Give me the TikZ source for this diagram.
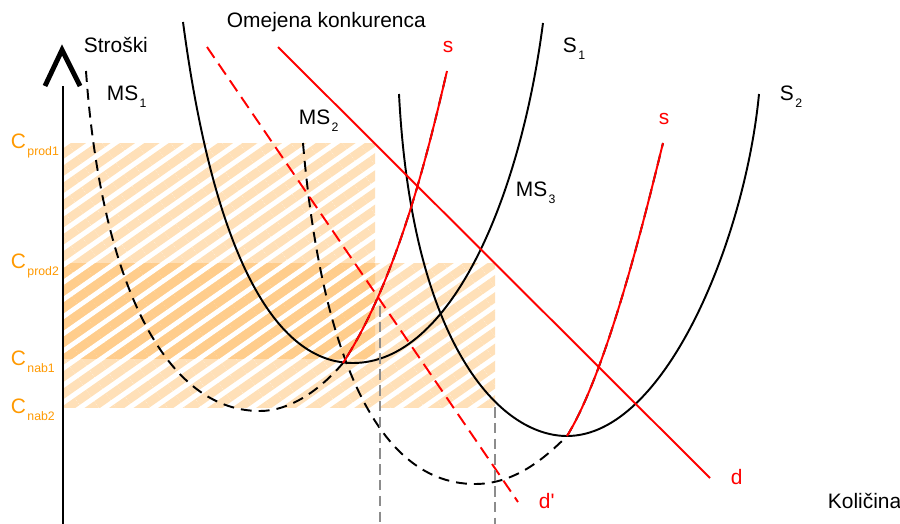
\documentclass[tikz,border=0pt]{standalone}
\usepackage{fontspec}
\setmainfont{Liberation Sans}
\usetikzlibrary{patterns.meta}

\definecolor{costorange}{RGB}{255,153,0}
\definecolor{costlight}{RGB}{255,224,184}
\definecolor{costdeep}{RGB}{255,205,140}
\newcommand{\lowsub}[1]{\kern0.8pt\raisebox{-4.5pt}{\fontsize{7}{8}\selectfont #1}}

\begin{document}
\begin{tikzpicture}[x=0.02cm, y=-0.02cm, line width=1.1pt,
  every node/.style={inner sep=0pt, anchor=base west, font=\fontsize{11.9}{14}\selectfont},
  avgcost/.style={black},
  margcost/.style={black, dash pattern=on 6.2pt off 4pt},
  supply/.style={red},
  demand/.style={red},
  demandnew/.style={red, dash pattern=on 7.5pt off 4pt},
  guide/.style={gray!90, dash pattern=on 6pt off 3pt},
  costbox/.style={pattern={Lines[angle=35,distance=8pt,line width=5pt]}, pattern color=costlight},
  costlabel/.style={text=costorange}]
  \useasboundingbox (0,0) rectangle (900,524);

  % cost areas
  \fill[costbox] (63,143) rectangle (375,358);
  \fill[costbox] (63,263) rectangle (495,407);
  \fill[costbox, pattern color=costdeep] (63,263) rectangle (375,358);

  % axis
  \draw (63,86) -- (63,524);
  \draw[line width=2.8pt, miter limit=10] (45,86) -- (62,50) -- (80,86);

  % meeting points of the curves
  \coordinate (m1) at (343,363);
  \coordinate (m2) at (567,436);

  % average cost curves
  \draw[avgcost] (183,22) .. controls (214,255) and (275,363) .. (353,363)
    .. controls (450,363) and (520,200) .. (543,23);
  \draw[avgcost] (399,94) .. controls (412,345) and (500,436) .. (567,436)
    .. controls (665,436) and (745,240) .. (759,94);

  % marginal cost curves
  \draw[margcost] (86,71) .. controls (100,270) and (160,411) .. (260,411)
    .. controls (290,411) and (320,390) .. (m1)
    .. controls (398,278) and (428,152) .. (447,71);
  \draw[margcost] (303,143) .. controls (318,320) and (365,484) .. (475,484)
    .. controls (515,484) and (545,458) .. (m2)
    .. controls (608,370) and (647,208) .. (663,143);

  % supply
  \draw[supply] (m1) .. controls (398,278) and (428,152) .. (447,71);
  \draw[supply] (m2) .. controls (608,370) and (647,208) .. (663,143);

  % demand
  \draw[demand] (278,47) -- (710,478);
  \draw[demandnew] (207,47) -- (518,502);

  % quantities
  \draw[guide] (380,306) -- (380,524);
  \draw[guide] (495,407) -- (495,524);

  % labels
  \node (title) at (226,28) {Omejena konkurenca};
  \node (stroski) at (83,52) {Stroški};
  \node (kolicina) at (827,508) {Količina};
  \node (ms1) at (106,100) {MS\lowsub{1}};
  \node (ms2) at (298,124) {MS\lowsub{2}};
  \node (ms3) at (515,196) {MS\lowsub{3}};
  \node (s1) at (562,52) {S\lowsub{1}};
  \node (s2) at (779,100) {S\lowsub{2}};
  \node[red] (sa) at (442,52) {s};
  \node[red] (sb) at (658,124) {s};
  \node[red] (dlab) at (730,484) {d};
  \node[red] (dnew) at (538,508) {d\textquotesingle};
  \node[costlabel] (cprod1) at (10,148) {C\lowsub{prod1}};
  \node[costlabel] (cprod2) at (10,268) {C\lowsub{prod2}};
  \node[costlabel] (cnab1) at (10,365) {C\lowsub{nab1}};
  \node[costlabel] (cnab2) at (10,413) {C\lowsub{nab2}};
\end{tikzpicture}
\end{document}
